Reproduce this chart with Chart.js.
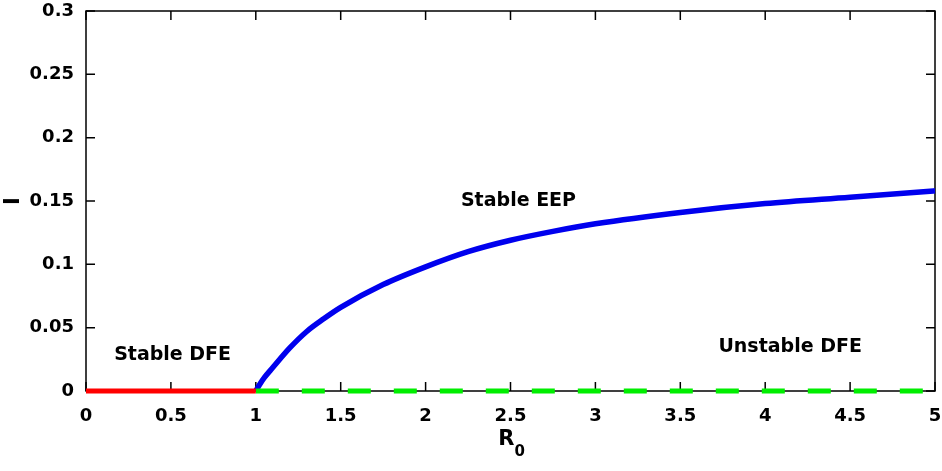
<!DOCTYPE html>
<html>
<head>
<meta charset="utf-8">
<script src="https://cdn.jsdelivr.net/npm/chart.js@4.4.1/dist/chart.umd.min.js"></script>
<style>
  body { margin: 0; background: #fff; }
  #wrap { width: 942px; height: 471px; }
</style>
</head>
<body>
<div id="wrap"><canvas id="c" width="942" height="471"></canvas></div>
<script>
// values
const eepR0 = [1, 1.02, 1.05, 1.1, 1.2, 1.3, 1.4, 1.5, 1.75, 2, 2.25, 2.5, 2.75, 3, 3.5, 4, 4.5, 5];
const eepI  = [0, 0.0045, 0.0105, 0.0185, 0.034, 0.047, 0.057, 0.066, 0.084, 0.098, 0.110, 0.119, 0.126, 0.132, 0.141, 0.148, 0.153, 0.158];
const dfeStableR0 = [0, 1];
const dfeStableI = [0, 0];
const dfeUnstableR0 = [1, 5];
const dfeUnstableI = [0, 0];
const labels = [
  {text: 'Stable DFE', x: 0.51, y: 0.0287},
  {text: 'Stable EEP', x: 2.547, y: 0.1496},
  {text: 'Unstable DFE', x: 4.147, y: 0.0345}
];

const toXY = (xs, ys) => xs.map((x, i) => ({x: x, y: ys[i]}));

// box + inward ticks, drawn under the lines
const frame = {
  id: 'frame',
  beforeDatasetsDraw(chart) {
    const {ctx, chartArea: a, scales: {x, y}} = chart;
    ctx.save();
    ctx.strokeStyle = '#000';
    ctx.lineWidth = 1.5;
    ctx.strokeRect(a.left, a.top, a.right - a.left, a.bottom - a.top);
    ctx.beginPath();
    x.ticks.forEach(t => {
      const px = x.getPixelForValue(t.value);
      ctx.moveTo(px, a.bottom); ctx.lineTo(px, a.bottom - 9);
      ctx.moveTo(px, a.top); ctx.lineTo(px, a.top + 9);
    });
    y.ticks.forEach(t => {
      const py = y.getPixelForValue(t.value);
      ctx.moveTo(a.left, py); ctx.lineTo(a.left + 9, py);
      ctx.moveTo(a.right, py); ctx.lineTo(a.right - 9, py);
    });
    ctx.stroke();
    ctx.restore();
  },
  afterDraw(chart) {
    const {ctx, chartArea: a, scales: {x, y}} = chart;
    ctx.save();
    ctx.fillStyle = '#000';
    ctx.font = 'bold 19px "DejaVu Sans"';
    ctx.textAlign = 'center';
    ctx.textBaseline = 'middle';
    labels.forEach(l => ctx.fillText(l.text, x.getPixelForValue(l.x), y.getPixelForValue(l.y)));
    // x title R0
    const cx = (a.left + a.right) / 2;
    ctx.font = 'bold 21px "DejaVu Sans"';
    ctx.textAlign = 'right';
    ctx.fillText('R', cx + 4, 440);
    ctx.font = 'bold 15px "DejaVu Sans"';
    ctx.textAlign = 'left';
    ctx.fillText('0', cx + 4, 452);
    // y title I
    ctx.translate(14, (a.top + a.bottom) / 2);
    ctx.rotate(-Math.PI / 2);
    ctx.font = 'bold 21px "DejaVu Sans"';
    ctx.textAlign = 'center';
    ctx.fillText('I', 0, 0);
    ctx.restore();
  }
};

new Chart(document.getElementById('c'), {
  type: 'line',
  data: {
    datasets: [
      {data: toXY(dfeStableR0, dfeStableI), borderColor: '#ff0000', borderWidth: 5, pointRadius: 0, clip: false},
      {data: toXY(dfeUnstableR0, dfeUnstableI), borderColor: '#00ee00', borderWidth: 5, borderDash: [23, 23], pointRadius: 0, clip: false},
      {data: toXY(eepR0, eepI), borderColor: '#0000ee', borderWidth: 5.5, pointRadius: 0, cubicInterpolationMode: 'monotone', clip: false}
    ]
  },
  options: {
    responsive: false,
    animation: false,
    layout: {padding: {top: 11, right: 7, left: 0, bottom: 0}},
    plugins: {legend: {display: false}, tooltip: {enabled: false}},
    scales: {
      x: {
        type: 'linear', min: 0, max: 5,
        grid: {display: false, drawTicks: false},
        border: {display: false},
        ticks: {stepSize: 0.5, padding: 15, color: '#000', font: {family: 'DejaVu Sans', weight: 'bold', size: 18},
          callback: v => String(Number(v.toFixed(1)))},
        afterFit: s => { s.height = 80; s.paddingLeft = 0; s.paddingRight = 0; }
      },
      y: {
        min: 0, max: 0.3,
        grid: {display: false, drawTicks: false},
        border: {display: false},
        ticks: {stepSize: 0.05, padding: 12, color: '#000', font: {family: 'DejaVu Sans', weight: 'bold', size: 18},
          callback: v => String(Number(v.toFixed(2)))},
        afterFit: s => { s.width = 86; s.paddingTop = 0; s.paddingBottom = 0; }
      }
    }
  },
  plugins: [frame]
});
</script>
</body>
</html>
